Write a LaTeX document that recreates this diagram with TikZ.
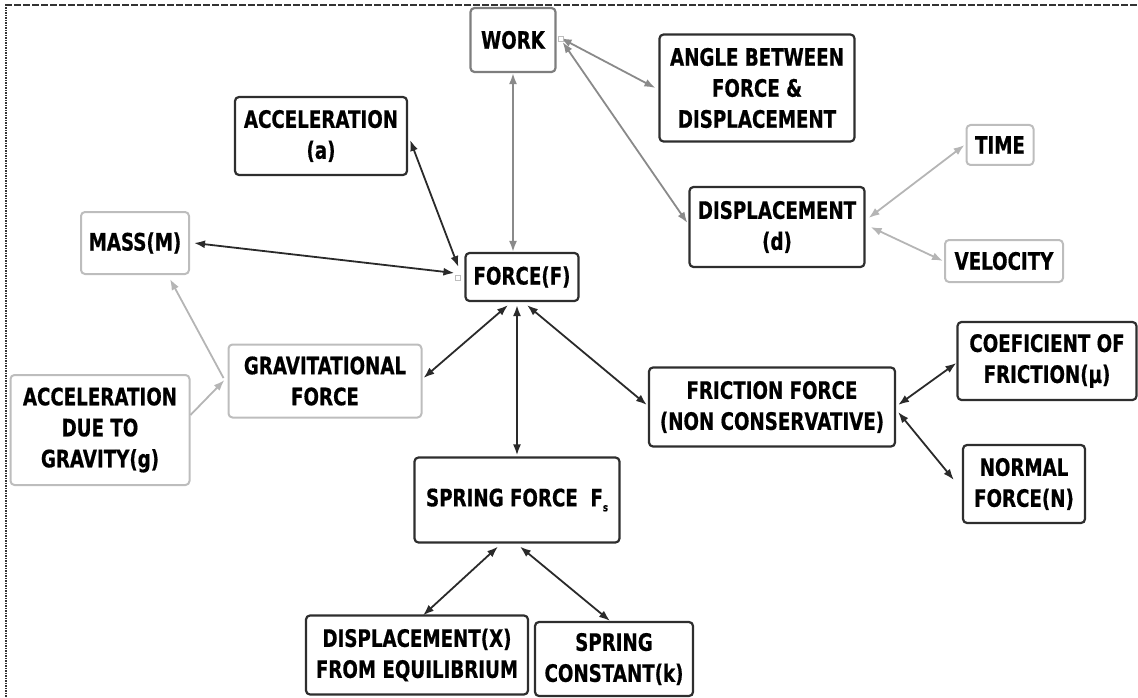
\documentclass[tikz,border=0pt]{standalone}
\usepackage{fontspec}
\newfontfamily\lblfont{DejaVu Sans}[FakeStretch=0.76, FakeBold=0.6]
\usetikzlibrary{arrows.meta,calc}
\definecolor{boxdk}{HTML}{2E2E2E}
\definecolor{boxgy}{HTML}{7E7E7E}
\definecolor{boxlt}{HTML}{BDBDBD}
\definecolor{lndk}{HTML}{2A2A2A}
\definecolor{lngy}{HTML}{8A8A8A}
\definecolor{lnlt}{HTML}{B5B5B5}
\definecolor{frame}{HTML}{333333}
\begin{document}
\begin{tikzpicture}[x=1pt,y=-1pt,
  box/.style={draw, rounded corners=4pt, line width=2.2pt, inner sep=0pt, align=center,
    font=\lblfont\bfseries\fontsize{24}{31}\selectfont, text=black},
  dkbox/.style={box, draw=boxdk},
  gybox/.style={box, draw=boxgy},
  ltbox/.style={box, draw=boxlt, line width=2pt},
  tip/.tip={Latex[length=11pt,width=8pt]},
  link/.style={line width=1.8pt, tip-tip},
  dklink/.style={link, draw=lndk, fill=lndk},
  gylink/.style={link, draw=lngy, fill=lngy},
  ltlink/.style={link, draw=lnlt, fill=lnlt},
  onelink/.style={line width=1.8pt, draw=lnlt, -tip},
  marker/.style={draw=boxlt, line width=0.8pt, fill=white}
]
\useasboundingbox (0,0) rectangle (1138,698);
% frame
\draw[frame, line width=1.6pt, dash pattern=on 7pt off 2pt] (5,5) -- (1138,5);
\draw[frame, line width=1.6pt, dash pattern=on 1.5pt off 1pt] (6,5) -- (6,698);

% nodes
\node[gybox, minimum width=85pt, minimum height=64pt] (work) at (513,40) {WORK};
\node[dkbox, minimum width=195pt, minimum height=107pt] (angle) at (757,88) {ANGLE BETWEEN\\FORCE \&\\DISPLACEMENT};
\node[dkbox, minimum width=172pt, minimum height=78pt] (accel) at (321,136) {ACCELERATION\\(a)};
\node[ltbox, minimum width=108pt, minimum height=62pt] (mass) at (135,243) {MASS(M)};
\node[dkbox, minimum width=113pt, minimum height=48pt] (force) at (522,277) {FORCE(F)};
\node[dkbox, minimum width=175pt, minimum height=80pt] (disp) at (777,227) {DISPLACEMENT\\(d)};
\node[ltbox, minimum width=67pt, minimum height=40pt] (time) at (1000,145) {TIME};
\node[ltbox, minimum width=118pt, minimum height=42pt] (vel) at (1004,261) {VELOCITY};
\node[dkbox, minimum width=179pt, minimum height=78pt] (coef) at (1047,361) {COEFICIENT OF\\FRICTION(μ)};
\node[ltbox, minimum width=193pt, minimum height=73pt] (grav) at (325,381) {GRAVITATIONAL\\FORCE};
\node[ltbox, minimum width=179pt, minimum height=110pt] (adg) at (100,430) {ACCELERATION\\DUE TO\\GRAVITY(g)};
\node[dkbox, minimum width=246pt, minimum height=79pt] (fric) at (772,407) {FRICTION FORCE\\(NON CONSERVATIVE)};
\node[dkbox, minimum width=122pt, minimum height=78pt] (normal) at (1024,484) {NORMAL\\FORCE(N)};
\node[dkbox, minimum width=205pt, minimum height=85pt] (spring) at (517,500) {SPRING FORCE\ \ F\raisebox{-5pt}{\fontsize{11}{11}\selectfont s}};
\node[dkbox, minimum width=222pt, minimum height=79pt] (dispx) at (417,655) {DISPLACEMENT(X)\\FROM EQUILIBRIUM};
\node[dkbox, minimum width=158pt, minimum height=74pt] (const) at (614,659) {SPRING\\CONSTANT(k)};

% connectors
\draw[gylink] (work.south) -- (work.south |- force.north);
\draw[dklink] ($(accel.east)+(2,4)$) -- ($(force.west)+(-6,-10)$);
\draw[dklink] ($(mass.east)+(4,0)$) -- ($(force.west)+(-10,-4)$);
\draw[onelink] ($(grav.west)+(-4,-3)$) -- ($(mass.south east)+(-20,4)$);
\draw[onelink] ($(adg.east)+(0,-15)$) -- ($(grav.west)+(-3,-1)$);
\draw[dklink] ($(force.south)+(-14,3)$) -- ($(grav.east)+(1,-3)$);
\draw[dklink] ($(force.south)+(-5,3)$) -- ($(spring.north)+(0,-1)$);
\draw[dklink] ($(force.south)+(5,3)$) -- ($(fric.west)+(-1,-2)$);
\draw[gylink] ($(work.east)+(4,-2)$) -- ($(angle.west)+(-3,0)$);
\draw[gylink] ($(work.east)+(6,2)$) -- ($(disp.west)+(-1,-4)$);
\draw[ltlink] ($(disp.east)+(3,-9)$) -- ($(time.west)+(-1,0)$);
\draw[ltlink] ($(disp.east)+(5,0)$) -- ($(vel.west)+(-1,0)$);
\draw[dklink] ($(fric.east)+(2,-2)$) -- ($(coef.west)+(0,2)$);
\draw[dklink] ($(fric.east)+(2,5)$) -- ($(normal.west)+(-8,-4)$);
\draw[dklink] ($(spring.south)+(-19,3)$) -- ($(dispx.north)+(6,1)$);
\draw[dklink] ($(spring.south)+(3,3)$) -- ($(const.north)+(-4,0)$);

% connection markers
\draw[marker] ($(work.east)+(2,-4)$) rectangle ++(5,5);
\draw[marker] ($(force.west)+(-9,-2)$) rectangle ++(5,5);
\end{tikzpicture}
\end{document}
